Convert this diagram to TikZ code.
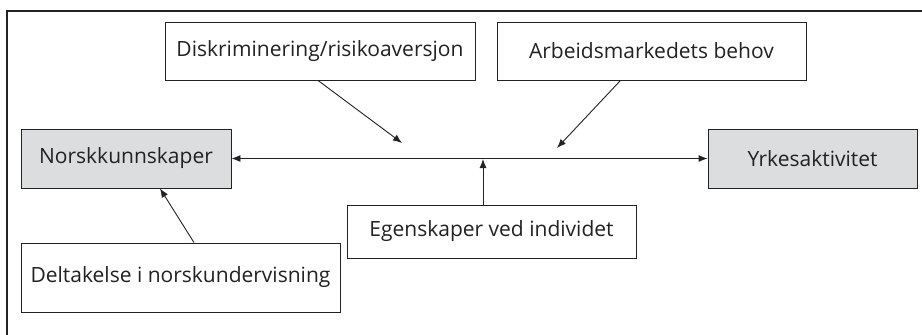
\documentclass[tikz,border=0pt]{standalone}
\usepackage{fontspec}
\setmainfont{Open Sans}
\usetikzlibrary{arrows.meta}
\definecolor{txt}{HTML}{222222}
\definecolor{boxgray}{HTML}{DCDDDF}
\begin{document}
\begin{tikzpicture}[x=1pt,y=-1pt,
  fbox/.style={draw=txt,line width=0.9pt,inner sep=0pt,text=txt,font=\fontsize{21}{24}\selectfont},
  gbox/.style={fbox,fill=boxgray},
  arr/.style={draw=txt,line width=0.9pt,-{Latex[length=9pt,width=7pt]}},
  darr/.style={draw=txt,line width=0.9pt,{Latex[length=9pt,width=7pt]}-{Latex[length=9pt,width=7pt]}}]
\useasboundingbox (0,0) rectangle (922,335);
\fill[white] (0,0) rectangle (922,335);
\draw[txt,line width=2pt] (7,335) -- (7,11) -- (922,11);
\node[fbox,minimum width=310pt,minimum height=58pt] (d) at (320,51) {Diskriminering/risikoaversjon};
\node[fbox,minimum width=309pt,minimum height=58pt] (a) at (651.5,51) {Arbeidsmarkedets behov};
\node[gbox,minimum width=210pt,minimum height=59pt] (n) at (126,158.5) {Norskkunnskaper};
\node[gbox,minimum width=209pt,minimum height=59pt] (y) at (812.5,158.5) {Yrkesaktivitet};
\node[fbox,minimum width=289pt,minimum height=53pt] (e) at (491.5,231.5) {Egenskaper ved individet};
\node[fbox,minimum width=319pt,minimum height=69pt] (dl) at (180.5,277.5) {Deltakelse i norskundervisning};
\coordinate (m1) at (402,143);
\coordinate (m2) at (557,148);
\coordinate (j) at (483,159);
\draw[darr] (n.east) -- (y.west);
\draw[arr] ([xshift=-2pt]d.south) -- (m1);
\draw[arr] ([xshift=-31pt]a.south) -- (m2);
\draw[arr] (e.north -| j) -- (j);
\draw[arr] ([xshift=13.5pt]dl.north) -- ([xshift=34pt]n.south);
\end{tikzpicture}
\end{document}
